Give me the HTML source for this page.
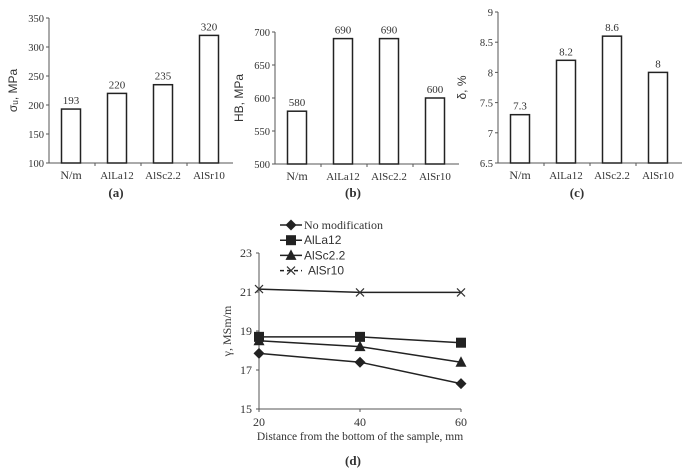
<!DOCTYPE html>
<html><head><meta charset="utf-8"><style>
body{margin:0;background:#fff}
svg{display:block;font-family:"Liberation Serif",serif;fill:#222}
text{fill:#333}
</style></head><body>
<svg id="s" width="685" height="475" viewBox="0 0 685 475"></svg>
<script>
const cats=["N/m","AlLa12","AlSc2.2","AlSr10"];
const valsA=[193,220,235,320];
const ticksA=[100,150,200,250,300,350];
const valsB=[580,690,690,600];
const ticksB=[500,550,600,650,700];
const valsC=[7.3,8.2,8.6,8];
const ticksC=[6.5,7,7.5,8,8.5,9];
const labelsC=["6.5","7","7.5","8","8.5","9"];
const xD=[20,40,60];
const ticksDx=[20,40,60];
const ticksDy=[15,17,19,21,23];
const seriesNames=["No modification","AlLa12","AlSc2.2","AlSr10"];
const sNoMod=[17.85,17.4,16.3];
const sLa=[18.7,18.7,18.4];
const sSc=[18.5,18.2,17.4];
const sSr=[21.15,20.98,20.98];
const NS="http://www.w3.org/2000/svg";
const svg=document.getElementById('s');
function el(t,a,p){const e=document.createElementNS(NS,t);for(const k in a)e.setAttribute(k,a[k]);(p||svg).appendChild(e);return e;}
function txt(x,y,s,a,p){const e=el('text',Object.assign({x:x,y:y,'font-size':11},a||{}),p);e.textContent=s;return e;}

function barChart(cfg){
  const g=el('g',{});
  
  
  const {x0,x1,yTop,yBot,min,max}=cfg;
  const Y=v=>yBot-(v-min)/(max-min)*(yBot-yTop);
  const cw=(x1-x0)/4;
  const ax=el('line',{x1:x0,y1:yTop,x2:x0,y2:yBot,stroke:'#555'},g);
  
  const bx=el('line',{x1:x0,y1:yBot,x2:x1,y2:yBot,stroke:'#555'},g);
  
  cfg.ticks.forEach((t,i)=>{
    el('line',{x1:x0-3,y1:Y(t),x2:x0,y2:Y(t),stroke:'#555'},g);
    const l=txt(x0-5,Y(t)+4,cfg.tickLabels?cfg.tickLabels[i]:String(t),{'text-anchor':'end','font-size':10.5},g);
    
  });
  for(let i=1;i<4;i++)el('line',{x1:x0+cw*i,y1:yBot,x2:x0+cw*i,y2:yBot+3,stroke:'#555'},g);
  cats.forEach((c,i)=>{
    const cx=x0+cw*(i+0.5)-1;
    const b=el('rect',{x:cx-9.5,y:Y(cfg.vals[i]),width:19,height:yBot-Y(cfg.vals[i]),fill:'#fff',stroke:'#222','stroke-width':1.5},g);
    
    
    const v=txt(cx,Y(cfg.vals[i])-5,String(cfg.vals[i]),{'text-anchor':'middle','font-size':11},g);
    
    const cl=txt(cx,yBot+16,c,{'text-anchor':'middle','font-size':i==0?12:11},g);
    
  });
  const yt=txt(0,0,cfg.ylabel,{'text-anchor':'middle','font-size':12,transform:`translate(${x0-32},${(yTop+yBot)/2}) rotate(-90)`,'font-family':'Liberation Sans, sans-serif'},g);
  
  const pl=txt(cfg.panelX,197,cfg.panel,{'text-anchor':'middle','font-size':13,'font-weight':'bold'},g);
  
}
barChart({name:'chart-a-strength',x0:49,x1:233,yTop:18,yBot:163,min:100,max:350,vals:valsA,ticks:ticksA,ylabel:'σᵤ, MPa',panel:'(a)',panelX:116});
barChart({name:'chart-b-hardness',x0:275,x1:459,yTop:32,yBot:164,min:500,max:700,vals:valsB,ticks:ticksB,ylabel:'HB, MPa',panel:'(b)',panelX:353});
barChart({name:'chart-c-elongation',x0:498,x1:682,yTop:12,yBot:163,min:6.5,max:9,vals:valsC,ticks:ticksC,tickLabels:labelsC,ylabel:'δ, %',panel:'(c)',panelX:577});

// line chart d
const gd=el('g',{});


const dx0=259,dx1=461,dyT=253,dyB=409;
const X=v=>dx0+(v-20)/40*(dx1-dx0);
const YD=v=>dyB-(v-15)/8*(dyB-dyT);
el('line',{x1:dx0,y1:dyT,x2:dx0,y2:dyB,stroke:'#555'},gd);
el('line',{x1:dx0,y1:dyB,x2:dx1,y2:dyB,stroke:'#555'},gd);
ticksDy.forEach(t=>{el('line',{x1:dx0-3,y1:YD(t),x2:dx0,y2:YD(t),stroke:'#555'},gd);
  const l=txt(dx0-7,YD(t)+4,String(t),{'text-anchor':'end','font-size':12},gd);
  });
ticksDx.forEach(t=>{el('line',{x1:X(t),y1:dyB,x2:X(t),y2:dyB+3,stroke:'#555'},gd);
  const l=txt(X(t),dyB+17,String(t),{'text-anchor':'middle','font-size':12},gd);
  });
const xt=txt(360,440,'Distance from the bottom of the sample, mm',{'text-anchor':'middle','font-size':11.5},gd);

const yt=txt(0,0,'γ, MSm/m',{'text-anchor':'middle','font-size':12,transform:`translate(${dx0-28},${(dyT+dyB)/2}) rotate(-90)`},gd);

const pd=txt(353,465,'(d)',{'text-anchor':'middle','font-size':13,'font-weight':'bold'},gd);

function marker(kind,x,y,p){
  if(kind==0)return el('path',{d:`M${x} ${y-5.5}L${x+5.5} ${y}L${x} ${y+5.5}L${x-5.5} ${y}Z`,fill:'#222'},p);
  if(kind==1)return el('rect',{x:x-5,y:y-5,width:10,height:10,fill:'#222'},p);
  if(kind==2)return el('path',{d:`M${x} ${y-6}L${x+5.5} ${y+4.5}L${x-5.5} ${y+4.5}Z`,fill:'#222'},p);
  return el('path',{d:`M${x-4} ${y-4}L${x+4} ${y+4}M${x+4} ${y-4}L${x-4} ${y+4}`,stroke:'#333','stroke-width':1.2,fill:'none'},p);
}
[sNoMod,sLa,sSc,sSr].forEach((s,k)=>{
  const sg=el('g',{},gd);
  
  
  el('polyline',{points:s.map((v,i)=>X(xD[i])+','+YD(v)).join(' '),fill:'none',stroke:'#222','stroke-width':1.5},sg);
  s.forEach((v,i)=>{const m=marker(k,X(xD[i]),YD(v),sg);
    });
  const lg=el('g',{},gd);
  
  
  const ly=225+k*15.2;
  el('line',{x1:280,y1:ly,x2:302,y2:ly,stroke:'#222','stroke-width':1.5,'stroke-dasharray':k==3?'4,3':'none'},lg);
  marker(k,291,ly,lg);
  txt(k==3?308:304,ly+4,seriesNames[k],{'font-size':12,'font-family':k==0?'Liberation Serif, serif':'Liberation Sans, sans-serif'},lg);
});
</script>
</body></html>
